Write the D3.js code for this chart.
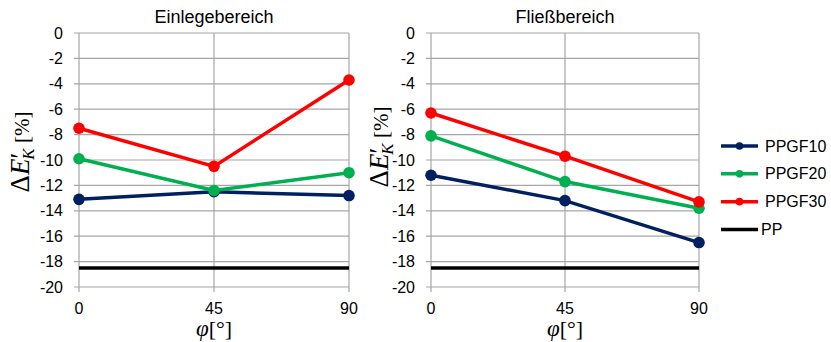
<!DOCTYPE html>
<html>
<head>
<meta charset="utf-8">
<script src="https://cdn.jsdelivr.net/npm/d3@7"></script>
<style>
  body { margin: 0; background: #fff; }
  svg text { font-family: "Liberation Sans", Arial, sans-serif; fill: #000; }
</style>
</head>
<body>
<svg id="chart" width="831" height="342"></svg>
<script>
// angle categories
const angles = [0, 45, 90];
const yTicks = [0, -2, -4, -6, -8, -10, -12, -14, -16, -18, -20];
const seriesNames = ["PPGF10", "PPGF20", "PPGF30", "PP"];
const seriesColors = ["#002060", "#00b050", "#ff0000", "#000000"];

// Einlegebereich
const einPPGF10 = [-13.1, -12.5, -12.8];
const einPPGF20 = [-9.9, -12.4, -11.0];
const einPPGF30 = [-7.5, -10.5, -3.7];
// Fließbereich
const fliPPGF10 = [-11.2, -13.2, -16.5];
const fliPPGF20 = [-8.1, -11.7, -13.8];
const fliPPGF30 = [-6.3, -9.7, -13.3];
// PP reference (both panels)
const ppLevel = -18.5;

const svg = d3.select("#chart");

const panels = [
    {title: "Einlegebereich", left: 79, right: 349, labelX: 29, labelY: 152,
        data: [einPPGF10, einPPGF20, einPPGF30]},
    {title: "Fließbereich", left: 431, right: 699, labelX: 388, labelY: 147,
        data: [fliPPGF10, fliPPGF20, fliPPGF30]}
];

const plotTop = 33, plotBottom = 287;

panels.forEach(function (p) {
    let x = d3.scaleLinear().domain([0, 90]).range([p.left, p.right]);
    let y = d3.scaleLinear().domain([-20, 0]).range([plotBottom, plotTop]);
    let g = svg.append("g");

    // grid
    g.selectAll(".hgrid").data(yTicks).enter().append("line")
        .attr("x1", p.left - 5).attr("x2", p.right)
        .attr("y1", d => y(d)).attr("y2", d => y(d))
        .attr("stroke", "#a6a6a6").attr("stroke-width", 1.2);
    g.selectAll(".vgrid").data(angles).enter().append("line")
        .attr("x1", d => x(d)).attr("x2", d => x(d))
        .attr("y1", plotTop).attr("y2", plotBottom + 5)
        .attr("stroke", "#a6a6a6").attr("stroke-width", 1.2);

    // y tick labels
    g.selectAll(".ylab").data(yTicks).enter().append("text")
        .attr("x", p.left - 16).attr("y", d => y(d))
        .attr("dy", "0.35em").attr("text-anchor", "end")
        .style("font-size", "16px")
        .text(d => d);

    // x tick labels
    g.selectAll(".xlab").data(angles).enter().append("text")
        .attr("x", d => x(d)).attr("y", plotBottom + 21)
        .attr("dy", "0.35em").attr("text-anchor", "middle")
        .style("font-size", "16px")
        .text(d => d);

    // title
    g.append("text")
        .attr("x", (p.left + p.right) / 2).attr("y", 23)
        .attr("text-anchor", "middle")
        .style("font-size", "18px")
        .text(p.title);

    // x axis label
    let xl = g.append("text")
        .attr("x", (p.left + p.right) / 2).attr("y", 336)
        .attr("text-anchor", "middle")
        .style("font-family", "'Liberation Serif', serif")
        .style("font-size", "23px");
    xl.append("tspan").style("font-style", "italic").text("φ");
    xl.append("tspan").style("font-size", "22px").text("[°]");

    // y axis label
    let yl = g.append("text")
        .attr("transform", "translate(" + p.labelX + "," + p.labelY + ") rotate(-90)")
        .attr("text-anchor", "middle")
        .style("font-family", "'Liberation Serif', serif")
        .style("font-size", "27px");
    yl.append("tspan").text("Δ");
    yl.append("tspan").style("font-style", "italic").text("E");
    yl.append("tspan").text("′");
    yl.append("tspan").style("font-style", "italic").style("font-size", "17px")
        .attr("dy", 5).attr("dx", -7).text("K");
    yl.append("tspan").attr("dy", -5).style("font-size", "21px").text(" [%]");

    // PP line
    g.append("line")
        .attr("x1", x(0)).attr("x2", x(90))
        .attr("y1", y(ppLevel)).attr("y2", y(ppLevel))
        .attr("stroke", "#000").attr("stroke-width", 3.5);

    let line = d3.line().x((d, i) => x(angles[i])).y(d => y(d));
    p.data.forEach(function (vals, si) {
        g.append("path").datum(vals)
            .attr("d", line)
            .attr("fill", "none")
            .attr("stroke", seriesColors[si])
            .attr("stroke-width", 3.5);
        g.selectAll(".pt" + si).data(vals).enter().append("circle")
            .attr("cx", (d, i) => x(angles[i])).attr("cy", d => y(d))
            .attr("r", 5.8).attr("fill", seriesColors[si]);
    });
});

// legend
const legY = d3.scalePoint().domain(seriesNames).range([146, 229.5]);
const leg = svg.append("g");
seriesNames.forEach(function (name, i) {
    let yy = legY(name);
    leg.append("line")
        .attr("x1", 721).attr("x2", 758)
        .attr("y1", yy).attr("y2", yy)
        .attr("stroke", seriesColors[i]).attr("stroke-width", 3.5);
    if (name !== "PP") {
        leg.append("circle").attr("cx", 739.5).attr("cy", yy).attr("r", 3.8)
            .attr("fill", seriesColors[i]);
    }
    leg.append("text")
        .attr("x", name === "PP" ? 761 : 765).attr("y", yy)
        .attr("dy", "0.35em")
        .style("font-size", "16px")
        .text(name);
});
</script>
</body>
</html>
